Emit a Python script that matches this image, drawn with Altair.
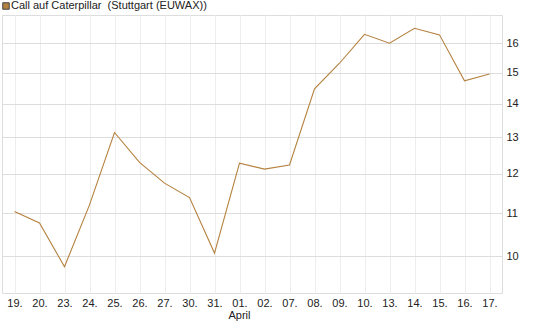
import altair as alt
import pandas as pd

dates = ["19.", "20.", "23.", "24.", "25.", "26.", "27.", "30.", "31.", "01.",
         "02.", "07.", "08.", "09.", "10.", "13.", "14.", "15.", "16.", "17."]
values = [11.04, 10.76, 9.77, 11.20, 13.14, 12.30, 11.75, 11.38, 10.07, 12.28,
          12.12, 12.23, 14.47, 15.31, 16.32, 16.00, 16.54, 16.30, 14.73, 14.95]
series_name = "Call auf Caterpillar \u00a0(Stuttgart (EUWAX))"
month_label = "April"
month_at = "01."
y_ticks = [10, 11, 12, 13, 14, 15, 16]

df = pd.DataFrame({"date": dates, "value": values})

FONT = "Liberation Sans"
COLOR = "#B5813F"

x_enc = alt.X("date:N", sort=dates,
              scale=alt.Scale(type="point", padding=0.5),
              axis=alt.Axis(title=None, labelAngle=0, labelFont=FONT, labelFontSize=11,
                            labelColor="#222", ticks=False, domain=False,
                            grid=True, gridColor="#eeeeee", labelPadding=4))

line = alt.Chart(df).mark_line(strokeWidth=1.1, color=COLOR).encode(
    x=x_enc,
    y=alt.Y("value:Q",
            scale=alt.Scale(type="log", domain=[9.22, 17.03], nice=False, zero=False),
            axis=alt.Axis(title=None, orient="right", values=y_ticks, labelFont=FONT,
                          labelFontSize=11, labelColor="#222", ticks=False, domain=False,
                          gridColor="#dddddd", labelPadding=4)),
)

leg_df = pd.DataFrame({"label": [series_name]})
leg_sym = alt.Chart(leg_df).mark_square(size=42, fill=COLOR, fillOpacity=1,
                                        stroke="#444444", strokeWidth=1).encode(
    x=alt.value(4), y=alt.value(-9))
leg_txt = alt.Chart(leg_df).mark_text(font=FONT, fontSize=11, color="#222",
                                      align="left", baseline="middle").encode(
    x=alt.value(9), y=alt.value(-9), text="label:N")

month_df = pd.DataFrame({"date": [month_at], "label": [month_label]})
month = alt.Chart(month_df).mark_text(font=FONT, fontSize=11, color="#222",
                                      baseline="top").encode(
    x=alt.X("date:N", sort=dates),
    y=alt.value(295),
    text="label:N",
)

chart = alt.layer(line, month, leg_sym, leg_txt).properties(
    width=500, height=278,
    padding={"left": 2, "top": 15, "right": 43, "bottom": 34},
    autosize=alt.AutoSizeParams(type="none"),
).configure_view(stroke="#cccccc", strokeWidth=1).configure(background="white")

chart.save("out.html", embed_options={"renderer": "svg", "actions": False})
